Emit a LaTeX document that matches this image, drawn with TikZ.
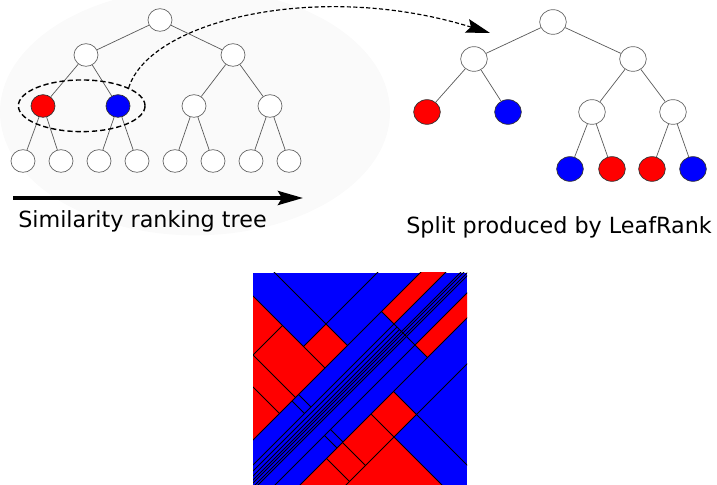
\documentclass[tikz,border=0pt]{standalone}
\usepackage{fontspec}
\setmainfont{DejaVu Sans}
\usetikzlibrary{shapes.geometric,arrows.meta}

\definecolor{leafred}{RGB}{255,0,0}
\definecolor{leafblue}{RGB}{0,0,255}

\tikzset{
  vertex/.style={ellipse, draw=black!60, fill=white, line width=0.6pt,
    minimum width=0.72cm, minimum height=0.68cm, inner sep=0pt},
  bigvertex/.style={vertex, minimum width=0.8cm, minimum height=0.74cm},
  redleaf/.style={fill=leafred, draw=black!80},
  blueleaf/.style={fill=leafblue, draw=black!80},
  branch/.style={draw=black!65, line width=0.6pt},
  cut/.style={draw=black, line width=0.75pt},
  caption/.style={anchor=base, font=\fontsize{19}{23}\selectfont},
}

% one red leaf of the partition, given as a box in (x+y, x-y)
\newcommand{\redcell}[4]{\fill[leafred] (#1,#2) -- (#3,#2) -- (#3,#4) -- (#1,#4) -- cycle;}

\begin{document}
\begin{tikzpicture}[x=0.03cm, y=-0.03cm]
  \useasboundingbox (0,0) rectangle (717,485);

  % faint backdrop behind the left tree
  \fill[black!2] (195,112) ellipse [x radius=5.85cm, y radius=3.7cm];

  % Similarity ranking tree
  \node[vertex] (r) at (160,20) {};
  \node[vertex] (a) at (86,55) {};
  \node[vertex] (b) at (233,55) {};
  \node[vertex,redleaf] (aa) at (43,106) {};
  \node[vertex,blueleaf] (ab) at (118,106) {};
  \node[vertex] (ba) at (194,106) {};
  \node[vertex] (bb) at (270,106) {};
  \foreach \x [count=\i] in {23,61,99,137,175,213,251,289}
    \node[vertex] (l\i) at (\x,161) {};

  \draw[branch] (r) -- (a);
  \draw[branch] (r) -- (b);
  \draw[branch] (a) -- (aa);
  \draw[branch] (a) -- (ab);
  \draw[branch] (b) -- (ba);
  \draw[branch] (b) -- (bb);
  \draw[branch] (aa) -- (l1);
  \draw[branch] (aa) -- (l2);
  \draw[branch] (ab) -- (l3);
  \draw[branch] (ab) -- (l4);
  \draw[branch] (ba) -- (l5);
  \draw[branch] (ba) -- (l6);
  \draw[branch] (bb) -- (l7);
  \draw[branch] (bb) -- (l8);

  % the selected pair of leaves
  \node[ellipse, draw, line width=1.2pt, dash pattern=on 4.5pt off 2.5pt,
    minimum width=3.8cm, minimum height=1.55cm] (sel) at (81.7,105.8) {};

  % ranking direction
  \coordinate (s0) at (13,198);
  \coordinate (s1) at (303,198);
  \draw[line width=3.2pt, -{Stealth[length=0.75cm, width=0.42cm, inset=0.12cm]}] (s0) -- (s1);
  \node[caption] (lt) at (142.5,228) {Similarity ranking tree};

  % Split produced by LeafRank
  \node[bigvertex] (R) at (553,22) {};
  \node[bigvertex] (RA) at (474,59) {};
  \node[bigvertex] (RB) at (633,59) {};
  \node[bigvertex,redleaf] (RAA) at (427,112) {};
  \node[bigvertex,blueleaf] (RAB) at (508,112) {};
  \node[bigvertex] (RBA) at (592,112) {};
  \node[bigvertex] (RBB) at (673,112) {};
  \node[bigvertex,blueleaf] (RBA1) at (570,169) {};
  \node[bigvertex,redleaf] (RBA2) at (612,169) {};
  \node[bigvertex,redleaf] (RBB1) at (652,169) {};
  \node[bigvertex,blueleaf] (RBB2) at (693,169) {};

  \draw[branch] (R) -- (RA);
  \draw[branch] (R) -- (RB);
  \draw[branch] (RA) -- (RAA);
  \draw[branch] (RA) -- (RAB);
  \draw[branch] (RB) -- (RBA);
  \draw[branch] (RB) -- (RBB);
  \draw[branch] (RBA) -- (RBA1);
  \draw[branch] (RBA) -- (RBA2);
  \draw[branch] (RBB) -- (RBB1);
  \draw[branch] (RBB) -- (RBB2);
  \node[caption] (rt) at (559,234) {Split produced by LeafRank};

  % dashed link from the pair to the split
  \coordinate (tip) at (490,33);
  \draw[line width=1pt, dash pattern=on 3.5pt off 2pt,
    -{Stealth[length=0.72cm, width=0.42cm, inset=0.12cm]}]
    (sel.21) .. controls (150,20) and (320,-20) .. (tip);

  % LeafRank partition of the pair space
  \begin{scope}
    \clip (253,273) rectangle (467,486);
    \fill[leafblue] (253,273) rectangle (467,486);
    \begin{scope}[x={(0.015cm,-0.015cm)}, y={(0.015cm,0.015cm)}]
      % red cells
      \redcell{400}{-400}{693}{-43}
      \redcell{650}{-43}{693}{2}
      \redcell{693}{70}{718}{400}
      \redcell{760}{70}{785}{400}
      \redcell{785}{-43}{831}{2}
      \redcell{785}{-400}{1100}{-43}
      % cuts along x-y
      \draw[cut] (400,2) -- (693,2);
      \draw[cut] (785,2) -- (1100,2);
      \draw[cut] (400,-43) -- (693,-43);
      \draw[cut] (785,-43) -- (1100,-43);
      \draw[cut] (693,70) -- (785,70);
      \draw[cut] (608,-102) -- (693,-102);
      \draw[cut] (500,-134) -- (693,-134);
      \draw[cut] (693,-96) -- (718,-96);
      \draw[cut] (693,-109) -- (718,-109);
      \draw[cut] (760,-99) -- (785,-99);
      \draw[cut] (760,-111) -- (785,-111);
      \draw[cut] (785,-100) -- (831,-100);
      \draw[cut] (785,-132) -- (831,-132);
      % cuts along x+y
      \draw[cut] (608,-102) -- (608,-43);
      \draw[cut] (650,-43) -- (650,300);
      \foreach \k in {693,718,733,736,740,743,760,785,831}
        \draw[cut] (\k,-300) -- (\k,300);
      \foreach \k in {724,729}
        \draw[cut] (\k,-300) -- (\k,70);
    \end{scope}
  \end{scope}
\end{tikzpicture}
\end{document}
